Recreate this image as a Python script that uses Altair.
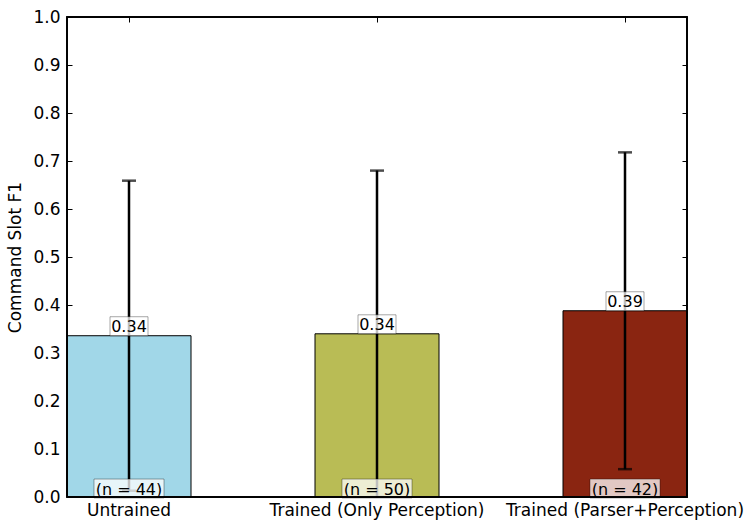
import altair as alt
import pandas as pd

categories = ["Untrained", "Trained (Only Perception)", "Trained (Parser+Perception)"]
means = [0.336, 0.340, 0.388]
errors = [0.323, 0.340, 0.330]
counts = [44, 50, 42]
colors = ["#A1D7E8", "#B9BC55", "#8A2511"]
y_ticks = [0.0, 0.1, 0.2, 0.3, 0.4, 0.5, 0.6, 0.7, 0.8, 0.9, 1.0]

df = pd.DataFrame({"cat": categories, "mean": means, "err": errors, "n": counts})

FONT = "DejaVu Sans"
FS = 16
AFS = 17
x_scale = alt.Scale(paddingInner=0.5, paddingOuter=0)
y_scale = alt.Scale(domain=[0, 1], nice=False, zero=True)

base = alt.Chart(df).transform_calculate(
    lo="datum.mean - datum.err",
    hi="datum.mean + datum.err",
    nlabel="'(n = ' + datum.n + ')'",
)

xn = alt.X("cat:N", sort=categories, scale=x_scale, axis=None)

bars = base.mark_bar(stroke="black", strokeWidth=1).encode(
    x=alt.X("cat:N", sort=categories, scale=x_scale,
            axis=alt.Axis(orient="bottom", title=None, labelAngle=0, ticks=False,
                          domain=False, labelPadding=5, labelFontSize=AFS, labelLimit=0,
                          labelColor="black", labelFont=FONT)),
    y=alt.Y("mean:Q", scale=y_scale,
            axis=alt.Axis(orient="left", title="Command Slot F1", values=y_ticks,
                          format=".1f", offset=-5, tickSize=5, tickColor="black",
                          domain=False, grid=False, labelPadding=7, labelFontSize=AFS,
                          labelColor="black", labelFont=FONT, titleFont=FONT,
                          titleFontSize=AFS, titleFontWeight="normal", titleColor="black",
                          titlePadding=8)),
    color=alt.Color("cat:N", scale=alt.Scale(domain=categories, range=colors), legend=None),
)

axes_layer = base.mark_point(opacity=0).encode(
    x=alt.X("cat:N", sort=categories, scale=x_scale,
            axis=alt.Axis(orient="top", labels=False, title=None, domain=False,
                          offset=-5, tickSize=5, tickColor="black")),
    y=alt.Y("mean:Q", scale=y_scale,
            axis=alt.Axis(orient="right", labels=False, title=None, domain=False,
                          offset=-5, tickSize=5, tickColor="black", values=y_ticks,
                          grid=False)),
)

rule = base.mark_rule(color="black", strokeWidth=2.5, clip=True).encode(
    x=xn,
    y=alt.Y("lo:Q", scale=y_scale, axis=None),
    y2="hi:Q",
)

cap_hi = base.mark_tick(color="black", size=14, thickness=2.5, orient="horizontal", clip=True).encode(
    x=xn, y=alt.Y("hi:Q", scale=y_scale, axis=None)
)
cap_lo = base.mark_tick(color="black", size=14, thickness=2.5, orient="horizontal", clip=True).encode(
    x=xn, y=alt.Y("lo:Q", scale=y_scale, axis=None)
)

box_val = base.mark_point(
    shape="M-1,-0.5L1,-0.5L1,0.5L-1,0.5Z", size=1444, filled=True,
    fill="white", fillOpacity=0.75, stroke="black", strokeOpacity=0.35,
    strokeWidth=1, yOffset=-9.5, opacity=1,
).encode(x=xn, y=alt.Y("mean:Q", scale=y_scale, axis=None))

text_val = base.mark_text(
    fontSize=FS, font=FONT, color="black", baseline="middle", align="center", yOffset=-8.5,
).encode(x=xn, y=alt.Y("mean:Q", scale=y_scale, axis=None), text=alt.Text("mean:Q", format=".2f"))

box_n = base.mark_point(
    shape="M-1,-0.27L1,-0.27L1,0.27L-1,0.27Z", size=4900, filled=True,
    fill="white", fillOpacity=0.75, stroke="black", strokeOpacity=0.35,
    strokeWidth=1, yOffset=-8.5, opacity=1,
).encode(x=xn, y=alt.Y(datum=0, scale=y_scale, axis=None))

text_n = base.mark_text(
    fontSize=FS, font=FONT, color="black", baseline="middle", align="center", yOffset=-7.5,
).encode(x=xn, y=alt.Y(datum=0, scale=y_scale, axis=None), text="nlabel:N")

frame = alt.Chart(df).mark_rect(fill=None, stroke="black", strokeWidth=1.5).encode(
    x=alt.value(0), x2=alt.value(620), y=alt.value(0), y2=alt.value(480)
)

chart = alt.layer(
    bars, axes_layer, rule, cap_hi, cap_lo, box_val, text_val, box_n, text_n, frame
).resolve_axis(x="independent", y="independent").properties(
    width=620, height=480,
    autosize=alt.AutoSizeParams(type="none"),
    padding={"left": 67, "top": 17, "right": 66, "bottom": 35},
    background="white",
).configure_view(stroke=None).configure(font=FONT)

chart.save("out.html", embed_options={"renderer": "svg", "actions": False})
